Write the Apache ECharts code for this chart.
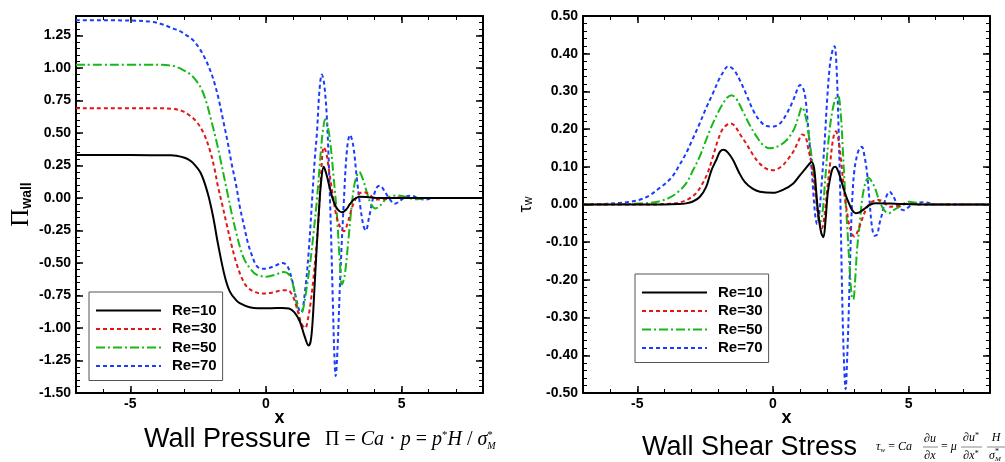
<!DOCTYPE html>
<html><head><meta charset="utf-8">
<script src="https://cdn.jsdelivr.net/npm/echarts@6/dist/echarts.min.js"></script>
<style>html,body{margin:0;padding:0;background:#fff}#c{width:1005px;height:462px}</style>
</head><body><div id="c"></div>
<script>
// ---------------- data ----------------
const seriesNames = ['Re=10', 'Re=30', 'Re=50', 'Re=70'];
const xTickLabels = [-5, 0, 5];
const yTicksPressure = [-1.5, -1.25, -1, -0.75, -0.5, -0.25, 0, 0.25, 0.5, 0.75, 1, 1.25];
const yTicksShear = [-0.5, -0.4, -0.3, -0.2, -0.1, 0, 0.1, 0.2, 0.3, 0.4, 0.5];

// Wall pressure  [x, Pi_wall]
const pressureRe10 = [[-7,0.33],[-5,0.33],[-3.5,0.328],[-3.3,0.325],[-3.0,0.31],[-2.85,0.295],[-2.69,0.27],[-2.4,0.19],[-2.15,0.04],[-1.95,-0.14],[-1.77,-0.35],[-1.52,-0.6],[-1.33,-0.72],[-1.1,-0.785],[-0.95,-0.81],[-0.6,-0.84],[-0.3,-0.848],[0.2,-0.848],[0.6,-0.846],[0.85,-0.85],[1.05,-0.88],[1.25,-0.95],[1.42,-1.06],[1.57,-1.135],[1.65,-1.1],[1.72,-0.95],[1.8,-0.65],[1.88,-0.35],[1.96,-0.08],[2.04,0.14],[2.13,0.24],[2.22,0.19],[2.35,0.08],[2.5,-0.03],[2.65,-0.09],[2.8,-0.11],[2.95,-0.09],[3.1,-0.045],[3.25,-0.01],[3.45,0.01],[3.7,0.008],[4.2,0],[8,0]];
const pressureRe30 = [[-7,0.69],[-4,0.69],[-3.4,0.685],[-3.1,0.67],[-2.85,0.64],[-2.57,0.59],[-2.3,0.5],[-2.07,0.37],[-1.9,0.23],[-1.77,0.09],[-1.6,-0.06],[-1.46,-0.19],[-1.27,-0.36],[-1.09,-0.5],[-0.9,-0.61],[-0.71,-0.68],[-0.45,-0.72],[-0.1,-0.735],[0.3,-0.725],[0.6,-0.71],[0.8,-0.71],[1.0,-0.76],[1.2,-0.89],[1.32,-0.97],[1.45,-1.0],[1.55,-0.93],[1.65,-0.8],[1.75,-0.62],[1.85,-0.4],[1.94,-0.15],[2.03,0.17],[2.13,0.39],[2.22,0.35],[2.32,0.22],[2.45,0.04],[2.6,-0.14],[2.75,-0.23],[2.88,-0.255],[3.0,-0.2],[3.12,-0.11],[3.25,-0.03],[3.42,0.03],[3.6,0.045],[3.8,0.03],[4.05,-0.012],[4.4,-0.008],[4.8,0.004],[5.3,0],[8,0]];
const pressureRe50 = [[-7,1.025],[-4,1.025],[-3.4,1.015],[-3.1,0.99],[-2.81,0.955],[-2.6,0.91],[-2.38,0.84],[-2.2,0.74],[-2.02,0.6],[-1.85,0.46],[-1.7,0.32],[-1.55,0.17],[-1.39,0.01],[-1.24,-0.14],[-1.09,-0.27],[-0.94,-0.39],[-0.78,-0.48],[-0.55,-0.55],[-0.35,-0.59],[0.02,-0.605],[0.35,-0.59],[0.64,-0.57],[0.85,-0.59],[1.0,-0.67],[1.12,-0.8],[1.25,-0.89],[1.35,-0.87],[1.48,-0.72],[1.63,-0.5],[1.75,-0.28],[1.88,-0.01],[2.0,0.3],[2.1,0.52],[2.19,0.605],[2.28,0.55],[2.37,0.43],[2.5,0.15],[2.62,-0.14],[2.72,-0.48],[2.8,-0.665],[2.9,-0.6],[3.05,-0.3],[3.18,-0.02],[3.3,0.14],[3.44,0.2],[3.58,0.14],[3.73,0.035],[3.88,-0.05],[4.04,-0.08],[4.2,-0.06],[4.47,0.0],[4.84,0.02],[5.2,0.005],[5.5,-0.01],[5.9,0.0],[8,0]];
const pressureRe70 = [[-7,1.368],[-5,1.365],[-4.2,1.355],[-3.8,1.335],[-3.5,1.31],[-3.19,1.285],[-2.95,1.255],[-2.69,1.215],[-2.45,1.15],[-2.26,1.08],[-2.05,0.98],[-1.89,0.88],[-1.73,0.75],[-1.58,0.6],[-1.42,0.44],[-1.27,0.27],[-1.1,0.1],[-0.96,-0.07],[-0.8,-0.22],[-0.66,-0.35],[-0.5,-0.45],[-0.35,-0.52],[-0.15,-0.545],[0.1,-0.54],[0.35,-0.52],[0.6,-0.5],[0.78,-0.52],[0.95,-0.62],[1.1,-0.76],[1.22,-0.86],[1.3,-0.88],[1.45,-0.7],[1.58,-0.4],[1.7,-0.02],[1.8,0.3],[1.88,0.5],[1.97,0.82],[2.06,0.95],[2.15,0.87],[2.25,0.6],[2.37,-0.07],[2.46,-0.75],[2.52,-1.2],[2.57,-1.37],[2.64,-1.15],[2.74,-0.6],[2.86,-0.07],[2.99,0.38],[3.1,0.485],[3.22,0.4],[3.35,0.15],[3.48,-0.07],[3.6,-0.22],[3.68,-0.25],[3.8,-0.15],[3.95,0.0],[4.1,0.085],[4.2,0.095],[4.35,0.06],[4.53,0.0],[4.75,-0.045],[4.95,-0.02],[5.15,0.01],[5.35,0.018],[5.6,0.0],[5.85,-0.012],[6.2,0],[8,0]];

// Wall shear stress  [x, tau_w]
const shearRe10 = [[-7,0],[-4,0],[-3.5,0.001],[-3.2,0.003],[-2.95,0.008],[-2.7,0.02],[-2.46,0.047],[-2.27,0.09],[-2.09,0.118],[-1.95,0.14],[-1.81,0.145],[-1.65,0.137],[-1.47,0.118],[-1.25,0.085],[-1.04,0.06],[-0.75,0.042],[-0.48,0.034],[0,0.031],[0.4,0.04],[0.75,0.056],[1.0,0.078],[1.2,0.095],[1.37,0.11],[1.43,0.113],[1.52,0.095],[1.6,0.03],[1.68,-0.03],[1.78,-0.075],[1.86,-0.087],[1.94,-0.04],[2.02,0.03],[2.11,0.07],[2.2,0.095],[2.3,0.1],[2.42,0.085],[2.55,0.055],[2.68,0.025],[2.79,0.005],[2.92,-0.015],[3.05,-0.023],[3.2,-0.02],[3.4,-0.01],[3.6,0.0],[3.8,0.003],[4.5,0.002],[5.5,0],[8,0]];
const shearRe30 = [[-7,0],[-4.5,0],[-3.8,0.002],[-3.44,0.005],[-3.1,0.015],[-2.83,0.03],[-2.6,0.055],[-2.4,0.085],[-2.2,0.13],[-2.03,0.17],[-1.87,0.198],[-1.72,0.21],[-1.55,0.215],[-1.4,0.208],[-1.2,0.185],[-0.97,0.16],[-0.72,0.13],[-0.48,0.108],[-0.25,0.095],[0,0.091],[0.3,0.1],[0.55,0.12],[0.75,0.14],[0.95,0.17],[1.08,0.186],[1.2,0.18],[1.31,0.145],[1.43,0.105],[1.55,0.04],[1.68,-0.035],[1.8,-0.063],[1.9,-0.03],[2.0,0.04],[2.11,0.11],[2.22,0.175],[2.32,0.194],[2.42,0.17],[2.52,0.11],[2.63,0.03],[2.73,-0.02],[2.85,-0.065],[3.0,-0.085],[3.13,-0.07],[3.28,-0.04],[3.45,-0.01],[3.6,0.005],[3.9,0.012],[4.1,0.005],[4.3,-0.006],[4.6,-0.004],[5.0,0.002],[5.5,0],[8,0]];
const shearRe50 = [[-7,0],[-5.5,0.001],[-4.8,0.003],[-4.43,0.005],[-4.1,0.01],[-3.81,0.018],[-3.5,0.033],[-3.2,0.056],[-2.95,0.09],[-2.7,0.127],[-2.48,0.168],[-2.27,0.206],[-2.05,0.24],[-1.84,0.268],[-1.68,0.284],[-1.53,0.29],[-1.35,0.28],[-1.1,0.246],[-0.85,0.21],[-0.6,0.18],[-0.35,0.157],[-0.11,0.149],[0.2,0.155],[0.51,0.171],[0.78,0.2],[0.95,0.235],[1.07,0.258],[1.2,0.235],[1.31,0.189],[1.4,0.14],[1.49,0.092],[1.58,0.03],[1.68,-0.035],[1.75,-0.045],[1.83,-0.02],[1.93,0.07],[2.05,0.171],[2.17,0.24],[2.3,0.28],[2.4,0.288],[2.5,0.24],[2.58,0.14],[2.66,0.03],[2.74,-0.06],[2.82,-0.16],[2.9,-0.24],[2.96,-0.252],[3.03,-0.2],[3.1,-0.12],[3.2,-0.05],[3.3,0.02],[3.42,0.06],[3.53,0.07],[3.65,0.06],[3.78,0.04],[3.92,0.01],[4.1,-0.015],[4.27,-0.023],[4.45,-0.015],[4.7,-0.004],[5.0,0.007],[5.3,0.004],[5.6,0],[8,0]];
const shearRe70 = [[-7,0],[-6.3,0.001],[-5.67,0.004],[-5.3,0.007],[-4.93,0.012],[-4.55,0.024],[-4.19,0.043],[-3.94,0.057],[-3.69,0.076],[-3.45,0.104],[-3.2,0.136],[-2.95,0.175],[-2.7,0.215],[-2.45,0.258],[-2.21,0.295],[-2.0,0.33],[-1.84,0.35],[-1.65,0.367],[-1.45,0.358],[-1.22,0.33],[-0.97,0.29],[-0.73,0.25],[-0.48,0.222],[-0.23,0.208],[0.02,0.207],[0.26,0.215],[0.5,0.24],[0.75,0.277],[0.9,0.305],[1.0,0.317],[1.1,0.31],[1.19,0.286],[1.28,0.22],[1.37,0.145],[1.47,0.05],[1.56,-0.03],[1.63,-0.052],[1.7,-0.03],[1.8,0.06],[1.9,0.16],[2.0,0.28],[2.1,0.37],[2.2,0.41],[2.27,0.42],[2.34,0.37],[2.42,0.2],[2.48,0.03],[2.54,-0.2],[2.61,-0.4],[2.68,-0.49],[2.74,-0.4],[2.8,-0.27],[2.86,-0.11],[2.92,0.01],[3.0,0.09],[3.1,0.13],[3.2,0.15],[3.28,0.153],[3.37,0.13],[3.47,0.083],[3.56,0.01],[3.65,-0.059],[3.75,-0.083],[3.84,-0.08],[3.93,-0.05],[4.03,-0.023],[4.15,0.015],[4.3,0.034],[4.45,0.02],[4.58,-0.001],[4.7,-0.012],[4.83,-0.015],[5.0,-0.007],[5.2,0.003],[5.6,0.006],[6.0,0],[8,0]];

// ---------------- styles ----------------
const colors = ['#000000', '#e01818', '#18b818', '#1a3cff'];
const dashes = ['solid', [4, 3], [9, 3, 2, 3], [4, 3]];
const FONT = '"Liberation Sans", Arial, sans-serif';
const SERIF = '"Liberation Serif", "Times New Roman", serif';

const measureCtx = document.createElement('canvas').getContext('2d');
function textWidth(font, s) { measureCtx.font = font; return measureCtx.measureText(s).width; }

const chart = echarts.init(document.getElementById('c'), null, {renderer: 'canvas'});

function xAxes(grid) {
  const base = {gridIndex: grid, type: 'value', min: -7, max: 8, splitLine: {show: false}};
  return [
    Object.assign({}, base, {position: 'bottom', name: 'x', nameLocation: 'middle', nameGap: 16, nameMoveOverlap: false,
      nameTextStyle: {fontFamily: FONT, fontWeight: 'bold', fontSize: 18, color: '#000'},
      axisLine: {show: true, onZero: false, lineStyle: {color: '#000', width: 2}},
      axisTick: {show: true, inside: true, length: 7, customValues: xTickLabels, lineStyle: {color: '#000', width: 1.5}},
      axisLabel: {show: true, customValues: xTickLabels, margin: 4, fontFamily: FONT, fontWeight: 'bold', fontSize: 14, color: '#000'}}),
    Object.assign({}, base, {position: 'bottom', interval: 1,
      axisLine: {show: false, onZero: false}, axisTick: {show: true, inside: true, length: 4, lineStyle: {color: '#000', width: 1}},
      axisLabel: {show: false}}),
    Object.assign({}, base, {position: 'top',
      axisLine: {show: true, onZero: false, lineStyle: {color: '#000', width: 2}},
      axisTick: {show: true, inside: true, length: 7, customValues: xTickLabels, lineStyle: {color: '#000', width: 1.5}},
      axisLabel: {show: false}}),
    Object.assign({}, base, {position: 'top', interval: 1,
      axisLine: {show: false, onZero: false}, axisTick: {show: true, inside: true, length: 4, lineStyle: {color: '#000', width: 1}},
      axisLabel: {show: false}})
  ];
}
function yAxes(grid, min, max, ticks, minor, name, nameGap, rich) {
  const base = {gridIndex: grid, type: 'value', min: min, max: max, splitLine: {show: false}};
  return [
    Object.assign({}, base, {position: 'left', name: name, nameLocation: 'middle', nameGap: nameGap, nameRotate: 90,
      nameTextStyle: {rich: rich, color: '#000'},
      axisLine: {show: true, onZero: false, lineStyle: {color: '#000', width: 2}},
      axisTick: {show: true, inside: true, length: 7, customValues: ticks, lineStyle: {color: '#000', width: 1.5}},
      axisLabel: {show: true, customValues: ticks, margin: 5, formatter: v => v.toFixed(2),
        fontFamily: FONT, fontWeight: 'bold', fontSize: 14, color: '#000'}}),
    Object.assign({}, base, {position: 'left', interval: minor,
      axisLine: {show: false, onZero: false}, axisTick: {show: true, inside: true, length: 4, lineStyle: {color: '#000', width: 1}},
      axisLabel: {show: false}}),
    Object.assign({}, base, {position: 'right',
      axisLine: {show: true, onZero: false, lineStyle: {color: '#000', width: 2}},
      axisTick: {show: true, inside: true, length: 7, customValues: ticks, lineStyle: {color: '#000', width: 1.5}},
      axisLabel: {show: false}}),
    Object.assign({}, base, {position: 'right', interval: minor,
      axisLine: {show: false, onZero: false}, axisTick: {show: true, inside: true, length: 4, lineStyle: {color: '#000', width: 1}},
      axisLabel: {show: false}})
  ];
}

const pressureData = [pressureRe10, pressureRe30, pressureRe50, pressureRe70];
const shearData = [shearRe10, shearRe30, shearRe50, shearRe70];
const series = [];
[pressureData, shearData].forEach((set, g) => {
  set.forEach((d, i) => {
    series.push({
      type: 'line', name: seriesNames[i], data: d, xAxisIndex: g * 4, yAxisIndex: g * 4,
      showSymbol: false, symbol: 'none', smooth: 0.35, z: 10 - i,
      itemStyle: {color: colors[i]},
      lineStyle: {color: colors[i], width: 2, type: dashes[i]}
    });
  });
});

function legendAt(left, top) {
  return {
    orient: 'vertical', left: left, top: top, data: seriesNames,
    itemWidth: 65, itemHeight: 14, itemGap: 3.5, padding: [11, 6, 7, 6],
    borderColor: '#555', borderWidth: 1, backgroundColor: '#fff', selectedMode: false,
    itemStyle: {opacity: 0, borderWidth: 0},
    textStyle: {fontFamily: FONT, fontWeight: 'bold', fontSize: 15, color: '#000', padding: [0, 0, 0, 6]}
  };
}

// left formula layout (text pieces, measured so the stacked */M sits right after sigma)
const FS = 20;
const fBase = FS + 'px ' + SERIF, fIt = 'italic ' + FS + 'px ' + SERIF, fSup = '11px ' + SERIF;
const leftFormulaX = 325;
const piecesL = [[fBase, 'Π'], [fBase, ' = '], [fIt, 'Ca'], [fBase, ' · '], [fIt, 'p'], [fBase, ' = '], [fIt, 'p'], [fSup, '*'], [fIt, 'H'], [fBase, ' / '], [fIt, 'σ']];
const stackXL = leftFormulaX + piecesL.reduce((s, p) => s + textWidth(p[0], p[1]), 0);
const sigmaW = textWidth('italic 12px ' + SERIF, 'σ');

const option = {
  animation: false,
  backgroundColor: '#fff',
  grid: [
    {left: 76, top: 16, width: 407, height: 377},
    {left: 583, top: 16, width: 407, height: 377}
  ],
  xAxis: xAxes(0).concat(xAxes(1)),
  yAxis: yAxes(0, -1.5, 1.4, yTicksPressure, 0.05, '{a|Π}{b|wall}', 42, {
      a: {fontFamily: SERIF, fontSize: 25, lineHeight: 26, verticalAlign: 'bottom', color: '#000'},
      b: {fontFamily: FONT, fontWeight: 'bold', fontSize: 14, lineHeight: 14, verticalAlign: 'bottom', color: '#000'}
    }).concat(yAxes(1, -0.5, 0.5, yTicksShear, 0.02, '{a|τ}{b|w}', 48, {
      a: {fontFamily: FONT, fontSize: 18, lineHeight: 18, verticalAlign: 'bottom', color: '#000'},
      b: {fontFamily: FONT, fontSize: 12, lineHeight: 12, verticalAlign: 'bottom', color: '#000'}
    })),
  legend: [legendAt(89, 292), legendAt(635, 274)],
  series: series,
  graphic: [
    {type: 'text', x: 144, y: 440, style: {text: 'Wall Pressure', fontFamily: FONT, fontSize: 27, fill: '#000', align: 'left', verticalAlign: 'middle'}},
    {type: 'text', x: leftFormulaX, y: 440, style: {
      text: '{n|Π} = {i|Ca} · {i|p} = {i|p}{s|*}{i|H} / {i|σ}',
      fontFamily: SERIF, fontSize: FS, fill: '#000', align: 'left', verticalAlign: 'middle',
      rich: {
        n: {fontFamily: SERIF, fontSize: FS, fill: '#000'},
        i: {fontFamily: SERIF, fontStyle: 'italic', fontSize: FS, fill: '#000'},
        s: {fontFamily: SERIF, fontSize: 11, fill: '#000', verticalAlign: 'top', padding: [0, 0, 9, 0]}
      }}},
    {type: 'text', x: stackXL, y: 441, style: {
      text: '{s|*}\n{m|M}', align: 'left', verticalAlign: 'middle', fill: '#000',
      rich: {
        s: {fontFamily: SERIF, fontSize: 11, lineHeight: 11, fill: '#000'},
        m: {fontFamily: SERIF, fontStyle: 'italic', fontSize: 10, lineHeight: 11, fill: '#000'}
      }}},
    {type: 'text', x: 642, y: 448, style: {text: 'Wall Shear Stress', fontFamily: FONT, fontSize: 27, fill: '#000', align: 'left', verticalAlign: 'middle'}},
    // shear stress formula
    {type: 'text', x: 876, y: 447, style: {text: '{i|τ}{m|w} = {i|Ca}', fontFamily: SERIF, fontSize: 12, fill: '#000', verticalAlign: 'middle',
      rich: {i: {fontFamily: SERIF, fontStyle: 'italic', fontSize: 12, fill: '#000'}, m: {fontFamily: SERIF, fontSize: 7, fill: '#000', padding: [6, 0, 0, 0]}}}},
    {type: 'text', x: 930, y: 439, style: {text: '∂u', fontFamily: SERIF, fontStyle: 'italic', fontSize: 12, fill: '#000', align: 'center', verticalAlign: 'middle'}},
    {type: 'line', shape: {x1: 923, y1: 447, x2: 938, y2: 447}, style: {stroke: '#888', lineWidth: 1}},
    {type: 'text', x: 930, y: 456, style: {text: '∂x', fontFamily: SERIF, fontStyle: 'italic', fontSize: 12, fill: '#000', align: 'center', verticalAlign: 'middle'}},
    {type: 'text', x: 941, y: 447, style: {text: '= {i|μ}', fontFamily: SERIF, fontSize: 12, fill: '#000', verticalAlign: 'middle',
      rich: {i: {fontFamily: SERIF, fontStyle: 'italic', fontSize: 12, fill: '#000'}}}},
    {type: 'text', x: 971, y: 438, style: {text: '∂u{s|*}', fontFamily: SERIF, fontStyle: 'italic', fontSize: 12, fill: '#000', align: 'center', verticalAlign: 'middle',
      rich: {s: {fontFamily: SERIF, fontSize: 8, fill: '#000', verticalAlign: 'top', padding: [0, 0, 5, 0]}}}},
    {type: 'line', shape: {x1: 961, y1: 447, x2: 982, y2: 447}, style: {stroke: '#888', lineWidth: 1}},
    {type: 'text', x: 971, y: 456, style: {text: '∂x{s|*}', fontFamily: SERIF, fontStyle: 'italic', fontSize: 12, fill: '#000', align: 'center', verticalAlign: 'middle',
      rich: {s: {fontFamily: SERIF, fontSize: 8, fill: '#000', verticalAlign: 'top', padding: [0, 0, 5, 0]}}}},
    {type: 'text', x: 996, y: 438, style: {text: 'H', fontFamily: SERIF, fontStyle: 'italic', fontSize: 12, fill: '#000', align: 'center', verticalAlign: 'middle'}},
    {type: 'line', shape: {x1: 987, y1: 447, x2: 1005, y2: 447}, style: {stroke: '#888', lineWidth: 1}},
    {type: 'text', x: 989, y: 456, style: {text: 'σ', fontFamily: SERIF, fontStyle: 'italic', fontSize: 12, fill: '#000', align: 'left', verticalAlign: 'middle'}},
    {type: 'text', x: 989 + sigmaW, y: 456, style: {text: '{s|*}\n{m|M}', align: 'left', verticalAlign: 'middle', fill: '#000',
      rich: {s: {fontFamily: SERIF, fontSize: 8, lineHeight: 7, fill: '#000'}, m: {fontFamily: SERIF, fontStyle: 'italic', fontSize: 7, lineHeight: 8, fill: '#000'}}}}
  ]
};
chart.setOption(option);
</script>
</body></html>
